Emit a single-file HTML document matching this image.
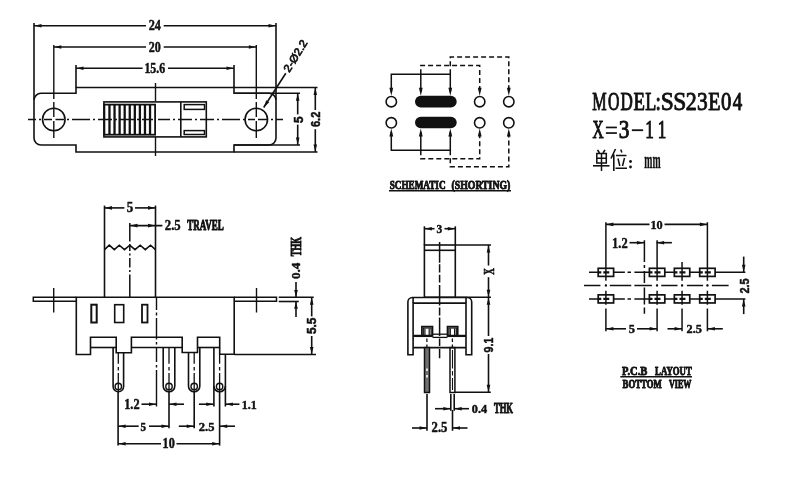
<!DOCTYPE html>
<html><head><meta charset="utf-8"><style>
html,body{margin:0;padding:0;background:#fff;width:800px;height:480px;overflow:hidden}
svg{display:block;will-change:transform}
</style></head><body>
<svg width="800" height="480" viewBox="0 0 800 480">
<rect width="800" height="480" fill="#fff"/>
<g stroke="#111" fill="none" stroke-linecap="butt">
<path d="M76,87.5 H234 V93.3 H269 A7,7 0 0 1 276,100.3 V138 A7,7 0 0 1 269,145 H234 V152 H76 V145 H41 A7,7 0 0 1 34,138 V100.3 A7,7 0 0 1 41,93.3 H76 Z" stroke-width="1.6" fill="none"/>
<circle cx="53.8" cy="119.5" r="11.25" stroke-width="1.6" fill="none"/>
<circle cx="256.3" cy="119.5" r="11.25" stroke-width="1.6" fill="none"/>
<path d="M28,119.5 H36 M39,119.5 H41 M44,119.5 H52 M55.5,119.5 H64 M67,119.5 H69 M72,119.5 H90 M93,119.5 H95 M98,119.5 H112 M115,119.5 H117 M120,119.5 H134 M137,119.5 H139 M142,119.5 H153 M158,119.5 H170 M173,119.5 H175 M178,119.5 H192 M195,119.5 H197 M200,119.5 H214 M217,119.5 H219 M222,119.5 H240 M243,119.5 H245 M248,119.5 H255 M258,119.5 H268 M271,119.5 H273 M276,119.5 H283" stroke-width="1.4" fill="none"/>
<path d="M53.8,45 V99 M53.8,102 V117 M53.8,121 V138" stroke-width="1.4" fill="none"/>
<path d="M256.3,45 V99 M256.3,102 V117 M256.3,121 V138" stroke-width="1.4" fill="none"/>
<path d="M155.5,83 V101" stroke-width="1.4" fill="none"/>
<path d="M155.5,137 V156" stroke-width="1.4" fill="none"/>
<line x1="34" y1="23" x2="34" y2="100" stroke-width="1.6"/>
<line x1="276" y1="23" x2="276" y2="100" stroke-width="1.6"/>
<line x1="76" y1="65" x2="76" y2="87.5" stroke-width="1.6"/>
<line x1="234" y1="65" x2="234" y2="87.5" stroke-width="1.6"/>
<line x1="34" y1="25.7" x2="146" y2="25.7" stroke-width="1.6"/>
<line x1="163.7" y1="25.7" x2="276" y2="25.7" stroke-width="1.6"/>
<path d="M34.50,25.70L41.50,23.90L41.50,27.50Z" fill="#111" stroke="none"/>
<path d="M275.50,25.70L268.50,27.50L268.50,23.90Z" fill="#111" stroke="none"/>
<line x1="53.8" y1="47" x2="146" y2="47" stroke-width="1.6"/>
<line x1="163.7" y1="47" x2="256.3" y2="47" stroke-width="1.6"/>
<path d="M54.30,47.00L61.30,45.20L61.30,48.80Z" fill="#111" stroke="none"/>
<path d="M255.80,47.00L248.80,48.80L248.80,45.20Z" fill="#111" stroke="none"/>
<line x1="76" y1="68.3" x2="142.6" y2="68.3" stroke-width="1.6"/>
<line x1="168" y1="68.3" x2="234" y2="68.3" stroke-width="1.6"/>
<path d="M76.50,68.30L83.50,66.50L83.50,70.10Z" fill="#111" stroke="none"/>
<path d="M233.50,68.30L226.50,70.10L226.50,66.50Z" fill="#111" stroke="none"/>
<text transform="translate(148.76,30.42) scale(0.60851,0.68981)" font-family="Liberation Serif" font-weight="bold" font-size="20" fill="#111" stroke="#111" stroke-width="0.693" stroke-linejoin="round">24</text>
<text transform="translate(148.87,51.57) scale(0.60000,0.72519)" font-family="Liberation Serif" font-weight="bold" font-size="20" fill="#111" stroke="#111" stroke-width="0.679" stroke-linejoin="round">20</text>
<text transform="translate(144.43,72.50) scale(0.59268,0.71882)" font-family="Liberation Serif" font-weight="bold" font-size="20" fill="#111" stroke="#111" stroke-width="0.686" stroke-linejoin="round">15.6</text>
<rect x="103.9" y="101.9" width="102.4" height="35.0" stroke-width="1.6" fill="none" rx="0"/>
<line x1="180.8" y1="101.9" x2="180.8" y2="136.9" stroke-width="1.6"/>
<rect x="104.4" y="104.6" width="50.69999999999999" height="30.099999999999994" stroke-width="1.8" fill="none" rx="0"/>
<line x1="109.47" y1="104.6" x2="109.47" y2="134.7" stroke-width="2.3"/>
<line x1="114.54" y1="104.6" x2="114.54" y2="134.7" stroke-width="2.3"/>
<line x1="119.61000000000001" y1="104.6" x2="119.61000000000001" y2="134.7" stroke-width="2.3"/>
<line x1="124.68" y1="104.6" x2="124.68" y2="134.7" stroke-width="2.3"/>
<line x1="129.75" y1="104.6" x2="129.75" y2="134.7" stroke-width="2.3"/>
<line x1="134.82" y1="104.6" x2="134.82" y2="134.7" stroke-width="2.3"/>
<line x1="139.89000000000001" y1="104.6" x2="139.89000000000001" y2="134.7" stroke-width="2.3"/>
<line x1="144.96" y1="104.6" x2="144.96" y2="134.7" stroke-width="2.3"/>
<line x1="150.03" y1="104.6" x2="150.03" y2="134.7" stroke-width="2.3"/>
<rect x="184.2" y="104.6" width="20.30000000000001" height="4.800000000000011" stroke-width="1.5" fill="none" rx="0"/>
<rect x="184.2" y="130.6" width="20.30000000000001" height="3.9000000000000057" stroke-width="1.5" fill="none" rx="0"/>
<line x1="234" y1="87.5" x2="317.5" y2="87.5" stroke-width="1.6"/>
<line x1="234" y1="152" x2="317.5" y2="152" stroke-width="1.6"/>
<line x1="234" y1="93.3" x2="300" y2="93.3" stroke-width="1.6"/>
<line x1="234" y1="145" x2="300" y2="145" stroke-width="1.6"/>
<line x1="297.7" y1="93.3" x2="297.7" y2="114.4" stroke-width="1.6"/>
<line x1="297.7" y1="124.6" x2="297.7" y2="145" stroke-width="1.6"/>
<path d="M297.70,93.80L299.50,100.80L295.90,100.80Z" fill="#111" stroke="none"/>
<path d="M297.70,144.50L295.90,137.50L299.50,137.50Z" fill="#111" stroke="none"/>
<text transform="translate(0.00,0.00) rotate(-90) translate(-122.90,302.57) scale(0.58794,0.67384)" font-family="Liberation Sans" font-weight="bold" font-size="20" fill="#111" stroke="#111" stroke-width="0.793" stroke-linejoin="round">5</text>
<line x1="315.3" y1="87.5" x2="315.3" y2="110" stroke-width="1.6"/>
<line x1="315.3" y1="129.2" x2="315.3" y2="152" stroke-width="1.6"/>
<path d="M315.30,88.00L317.10,95.00L313.50,95.00Z" fill="#111" stroke="none"/>
<path d="M315.30,151.50L313.50,144.50L317.10,144.50Z" fill="#111" stroke="none"/>
<text transform="translate(0.00,0.00) rotate(-90) translate(-127.01,319.58) scale(0.54857,0.62191)" font-family="Liberation Sans" font-weight="bold" font-size="20" fill="#111" stroke="#111" stroke-width="0.854" stroke-linejoin="round">6.2</text>
<line x1="263.7" y1="107.5" x2="285.8" y2="73.3" stroke-width="1.6"/>
<path d="M263.90,107.20L266.20,100.35L269.22,102.31Z" fill="#111" stroke="none"/>
<text transform="translate(285.10,72.70) rotate(-58.4) translate(1.90,3.82) scale(0.58274,0.54767)" font-family="Liberation Sans" font-weight="normal" font-size="20" fill="#111" stroke="#111" stroke-width="1.238" stroke-linejoin="round">2-Ø2.2</text>
<circle cx="391.3" cy="101.7" r="5.2" stroke-width="1.6" fill="none"/>
<circle cx="391.3" cy="122.8" r="5.2" stroke-width="1.6" fill="none"/>
<circle cx="479.7" cy="101.7" r="5.2" stroke-width="1.6" fill="none"/>
<circle cx="479.7" cy="122.8" r="5.2" stroke-width="1.6" fill="none"/>
<circle cx="508.8" cy="101.7" r="5.2" stroke-width="1.6" fill="none"/>
<circle cx="508.8" cy="122.8" r="5.2" stroke-width="1.6" fill="none"/>
<rect x="415" y="95.8" width="41.69999999999999" height="11.700000000000003" stroke-width="0" fill="#111" rx="5.85"/>
<rect x="415" y="116.7" width="41.69999999999999" height="11.600000000000009" stroke-width="0" fill="#111" rx="5.8"/>
<path d="M391.3,92 V74.2 H450.3 V92 M420.8,74.2 V92" stroke-width="1.5" fill="none"/>
<path d="M420.8,74.2 V65.5 H479.7 V92" stroke-width="1.5" fill="none" stroke-dasharray="5 3"/>
<path d="M450.3,74.2 V57 H508.8 V92" stroke-width="1.5" fill="none" stroke-dasharray="5 3"/>
<path d="M391.30,95.80L389.40,87.80L393.20,87.80Z" fill="#111" stroke="none"/>
<path d="M391.30,128.60L393.20,136.60L389.40,136.60Z" fill="#111" stroke="none"/>
<path d="M420.80,95.80L418.90,87.80L422.70,87.80Z" fill="#111" stroke="none"/>
<path d="M420.80,128.60L422.70,136.60L418.90,136.60Z" fill="#111" stroke="none"/>
<path d="M450.30,95.80L448.40,87.80L452.20,87.80Z" fill="#111" stroke="none"/>
<path d="M450.30,128.60L452.20,136.60L448.40,136.60Z" fill="#111" stroke="none"/>
<path d="M479.70,95.80L477.80,87.80L481.60,87.80Z" fill="#111" stroke="none"/>
<path d="M479.70,128.60L481.60,136.60L477.80,136.60Z" fill="#111" stroke="none"/>
<path d="M508.80,95.80L506.90,87.80L510.70,87.80Z" fill="#111" stroke="none"/>
<path d="M508.80,128.60L510.70,136.60L506.90,136.60Z" fill="#111" stroke="none"/>
<path d="M391.3,132 V150.3 H450.3 V132 M420.8,150.3 V132" stroke-width="1.5" fill="none"/>
<path d="M420.8,150.3 V158.8 H479.7 V132" stroke-width="1.5" fill="none" stroke-dasharray="5 3"/>
<path d="M450.3,150.3 V166.7 H508.8 V132" stroke-width="1.5" fill="none" stroke-dasharray="5 3"/>
<text transform="translate(389.74,188.76) scale(0.45836,0.57695)" font-family="Liberation Serif" font-weight="bold" font-size="20" fill="#111" stroke="#111" stroke-width="1.545" stroke-linejoin="round">SCHEMATIC</text>
<text transform="translate(451.58,188.76) scale(0.48765,0.57695)" font-family="Liberation Serif" font-weight="bold" font-size="20" fill="#111" stroke="#111" stroke-width="1.503" stroke-linejoin="round">(SHORTING)</text>
<line x1="389" y1="190.8" x2="511" y2="190.8" stroke-width="1.5"/>
<text transform="translate(592.35,110.16) scale(0.80843,1.28397)" font-family="Liberation Serif" font-weight="normal" font-size="20" fill="#111" stroke="#111" stroke-width="0.812" stroke-linejoin="round">M</text>
<text transform="translate(607.91,110.16) scale(0.79062,1.28397)" font-family="Liberation Serif" font-weight="normal" font-size="20" fill="#111" stroke="#111" stroke-width="0.819" stroke-linejoin="round">O</text>
<text transform="translate(620.43,110.16) scale(0.85211,1.28397)" font-family="Liberation Serif" font-weight="normal" font-size="20" fill="#111" stroke="#111" stroke-width="0.796" stroke-linejoin="round">D</text>
<text transform="translate(633.38,110.16) scale(0.93585,1.28397)" font-family="Liberation Serif" font-weight="normal" font-size="20" fill="#111" stroke="#111" stroke-width="0.766" stroke-linejoin="round">E</text>
<text transform="translate(645.20,110.16) scale(0.90577,1.28397)" font-family="Liberation Serif" font-weight="normal" font-size="20" fill="#111" stroke="#111" stroke-width="0.776" stroke-linejoin="round">L</text>
<text transform="translate(655.59,110.16) scale(0.96596,1.28397)" font-family="Liberation Serif" font-weight="normal" font-size="20" fill="#111" stroke="#111" stroke-width="0.756" stroke-linejoin="round">:</text>
<text transform="translate(660.86,110.16) scale(1.17193,1.28397)" font-family="Liberation Serif" font-weight="normal" font-size="20" fill="#111" stroke="#111" stroke-width="0.692" stroke-linejoin="round">S</text>
<text transform="translate(673.36,110.16) scale(1.17193,1.28397)" font-family="Liberation Serif" font-weight="normal" font-size="20" fill="#111" stroke="#111" stroke-width="0.692" stroke-linejoin="round">S</text>
<text transform="translate(685.85,110.16) scale(1.10250,1.28397)" font-family="Liberation Serif" font-weight="normal" font-size="20" fill="#111" stroke="#111" stroke-width="0.712" stroke-linejoin="round">2</text>
<text transform="translate(697.12,110.16) scale(1.06909,1.28397)" font-family="Liberation Serif" font-weight="normal" font-size="20" fill="#111" stroke="#111" stroke-width="0.722" stroke-linejoin="round">3</text>
<text transform="translate(708.14,110.16) scale(1.00189,1.28397)" font-family="Liberation Serif" font-weight="normal" font-size="20" fill="#111" stroke="#111" stroke-width="0.744" stroke-linejoin="round">E</text>
<text transform="translate(721.06,110.16) scale(1.03765,1.28397)" font-family="Liberation Serif" font-weight="normal" font-size="20" fill="#111" stroke="#111" stroke-width="0.732" stroke-linejoin="round">0</text>
<text transform="translate(732.76,110.16) scale(0.94839,1.28397)" font-family="Liberation Serif" font-weight="normal" font-size="20" fill="#111" stroke="#111" stroke-width="0.762" stroke-linejoin="round">4</text>
<rect x="605.9" y="126.6" width="11.0" height="1.700000000000017" stroke-width="0" fill="#111" rx="0"/>
<rect x="605.9" y="132.2" width="11.0" height="1.700000000000017" stroke-width="0" fill="#111" rx="0"/>
<rect x="631.9" y="129.3" width="11.200000000000045" height="1.799999999999983" stroke-width="0" fill="#111" rx="0"/>
<text transform="translate(592.49,137.66) scale(0.77070,1.23053)" font-family="Liberation Serif" font-weight="normal" font-size="20" fill="#111" stroke="#111" stroke-width="0.849" stroke-linejoin="round">X</text>
<text transform="translate(618.82,137.66) scale(1.06909,1.23053)" font-family="Liberation Serif" font-weight="normal" font-size="20" fill="#111" stroke="#111" stroke-width="0.739" stroke-linejoin="round">3</text>
<text transform="translate(645.35,137.66) scale(0.85390,1.23053)" font-family="Liberation Serif" font-weight="normal" font-size="20" fill="#111" stroke="#111" stroke-width="0.816" stroke-linejoin="round">1</text>
<text transform="translate(657.75,137.66) scale(0.85390,1.23053)" font-family="Liberation Serif" font-weight="normal" font-size="20" fill="#111" stroke="#111" stroke-width="0.816" stroke-linejoin="round">1</text>
<path d="M597.5,149.8 L599.5,153 M605,149.8 L603,153" stroke-width="1.6" fill="none"/>
<path d="M596.8,153.5 H606.3 V163 H596.8 Z M596.8,158.2 H606.3 M601.5,153.5 V171" stroke-width="1.5" fill="none"/>
<path d="M593,165.8 H609.5" stroke-width="1.6" fill="none"/>
<path d="M615.5,149 L611,158.5 M613.8,154.5 V171" stroke-width="1.6" fill="none"/>
<path d="M620.8,149.5 L621.8,152.5 M616,155.5 H626.5 M618,158.5 L619.8,166 M624.5,158 L622.5,166 M615.5,168.3 H627" stroke-width="1.5" fill="none"/>
<circle cx="630.5" cy="161.5" r="1.4" stroke-width="0" fill="#111"/>
<circle cx="630.5" cy="167" r="1.4" stroke-width="0" fill="#111"/>
<text transform="translate(644.33,168.30) scale(0.48765,1.18085)" font-family="Liberation Serif" font-weight="bold" font-size="20" fill="#111" stroke="#111" stroke-width="0.300" stroke-linejoin="round">mm</text>
<path d="M76.3,297.3 H33.3 V301.3 H76.3" stroke-width="1.5" fill="none"/>
<path d="M234.2,297.3 H276.5 V301.3 H234.2" stroke-width="1.5" fill="none"/>
<line x1="53.7" y1="288" x2="53.7" y2="312.5" stroke-width="1.4"/>
<line x1="256.5" y1="288" x2="256.5" y2="312.5" stroke-width="1.4"/>
<path d="M76.3,297.3 H234.2 V354.3 H219.7 V337.2 H197.5 V352.5 H182.2 V337.2 H131.4 V352.8 H116.2 V337.2 H90.5 V354.5 H76.3 Z" stroke-width="1.6" fill="none"/>
<line x1="90.5" y1="347.5" x2="116.2" y2="347.5" stroke-width="1.6"/>
<line x1="131.4" y1="347.5" x2="182.2" y2="347.5" stroke-width="1.6"/>
<line x1="197.5" y1="347.5" x2="219.7" y2="347.5" stroke-width="1.6"/>
<rect x="91.3" y="304.7" width="5.400000000000006" height="17.80000000000001" stroke-width="2" fill="none" rx="0"/>
<rect x="114.7" y="304.7" width="9.0" height="17.80000000000001" stroke-width="1.6" fill="none" rx="0"/>
<rect x="142" y="304.7" width="5.5" height="17.80000000000001" stroke-width="1.8" fill="none" rx="0"/>
<line x1="104.5" y1="205.6" x2="104.5" y2="297.3" stroke-width="1.6"/>
<line x1="155.5" y1="205.6" x2="155.5" y2="297.3" stroke-width="1.6"/>
<path d="M104.5,249.6 L109.3,245.2 L114.3,249.6 L119.3,245.2 L124.5,249.6 L129.8,245.2 L135,249.6 L140.2,245.2 L145.3,249.6 L150.5,245.2 L155.5,249.6" stroke-width="1.6" fill="none"/>
<path d="M129.8,223 V241.5 M129.8,244 V251 M129.8,253.5 V255.5 M129.8,258 V267.5 M129.8,270 V272 M129.8,274.5 V297" stroke-width="1.5" fill="none"/>
<line x1="104.5" y1="207.9" x2="124.4" y2="207.9" stroke-width="1.6"/>
<line x1="135" y1="207.9" x2="155.5" y2="207.9" stroke-width="1.6"/>
<path d="M105.00,207.90L112.00,206.10L112.00,209.70Z" fill="#111" stroke="none"/>
<path d="M155.00,207.90L148.00,209.70L148.00,206.10Z" fill="#111" stroke="none"/>
<text transform="translate(126.66,212.33) scale(0.64379,0.69850)" font-family="Liberation Serif" font-weight="bold" font-size="20" fill="#111" stroke="#111" stroke-width="0.670" stroke-linejoin="round">5</text>
<line x1="130" y1="225.6" x2="162.4" y2="225.6" stroke-width="1.6"/>
<path d="M130.50,225.60L137.50,223.80L137.50,227.40Z" fill="#111" stroke="none"/>
<path d="M155.00,225.60L148.00,227.40L148.00,223.80Z" fill="#111" stroke="none"/>
<text transform="translate(164.84,230.21) scale(0.63419,0.71144)" font-family="Liberation Serif" font-weight="bold" font-size="20" fill="#111" stroke="#111" stroke-width="0.669" stroke-linejoin="round">2.5</text>
<text transform="translate(187.28,230.37) scale(0.45148,0.69704)" font-family="Liberation Serif" font-weight="bold" font-size="20" fill="#111" stroke="#111" stroke-width="1.393" stroke-linejoin="round">TRAVEL</text>
<line x1="278.75" y1="297.3" x2="313.75" y2="297.3" stroke-width="1.6"/>
<line x1="278.75" y1="301.5" x2="298.75" y2="301.5" stroke-width="1.6"/>
<line x1="296" y1="281.9" x2="296" y2="297.3" stroke-width="1.6"/>
<path d="M296.00,297.10L294.20,290.10L297.80,290.10Z" fill="#111" stroke="none"/>
<line x1="296" y1="301.5" x2="296" y2="316.9" stroke-width="1.6"/>
<path d="M296.00,301.70L297.80,308.70L294.20,308.70Z" fill="#111" stroke="none"/>
<text transform="translate(0.00,0.00) rotate(-90) translate(-256.31,300.68) scale(0.43091,0.67634)" font-family="Liberation Serif" font-weight="bold" font-size="20" fill="#111" stroke="#111" stroke-width="1.445" stroke-linejoin="round">THK</text>
<text transform="translate(0.00,0.00) rotate(-90) translate(-279.06,300.24) scale(0.65439,0.61324)" font-family="Liberation Serif" font-weight="bold" font-size="20" fill="#111" stroke="#111" stroke-width="0.710" stroke-linejoin="round">0.4</text>
<line x1="311.7" y1="297.3" x2="311.7" y2="316.4" stroke-width="1.6"/>
<line x1="311.7" y1="336" x2="311.7" y2="354.5" stroke-width="1.6"/>
<path d="M311.70,297.80L313.50,304.80L309.90,304.80Z" fill="#111" stroke="none"/>
<path d="M311.70,354.00L309.90,347.00L313.50,347.00Z" fill="#111" stroke="none"/>
<text transform="translate(0.00,0.00) rotate(-90) translate(-334.05,316.27) scale(0.58537,0.66667)" font-family="Liberation Sans" font-weight="bold" font-size="20" fill="#111" stroke="#111" stroke-width="0.799" stroke-linejoin="round">5.5</text>
<line x1="234.2" y1="354.5" x2="316" y2="354.5" stroke-width="1.6"/>
<path d="M113.1,347.5 V386.55 A5.25,5.25 0 0 0 123.6,386.55 V352.8" stroke-width="1.6" fill="none"/>
<circle cx="118.3" cy="386.4" r="3.2" stroke-width="1.4" fill="none"/>
<path d="M163.2,347.5 V386.0 A5.800000000000011,5.800000000000011 0 0 0 174.8,386.0 V347.5" stroke-width="1.6" fill="none"/>
<circle cx="169" cy="386.4" r="3.2" stroke-width="1.4" fill="none"/>
<path d="M188.5,352.5 V386.15 A5.650000000000006,5.650000000000006 0 0 0 199.8,386.15 V347.5" stroke-width="1.6" fill="none"/>
<circle cx="194.2" cy="386.4" r="3.2" stroke-width="1.4" fill="none"/>
<path d="M213.9,347.5 V386.05 A5.75,5.75 0 0 0 225.4,386.05 V354.3" stroke-width="1.6" fill="none"/>
<circle cx="219.6" cy="386.4" r="3.2" stroke-width="1.4" fill="none"/>
<path d="M118.3,352.8 V363.75 M118.3,366.9 V370.6 M118.3,373 V392" stroke-width="1.3" fill="none"/>
<path d="M169,347.5 V363.75 M169,366.9 V370.6 M169,373 V392" stroke-width="1.3" fill="none"/>
<path d="M194.2,352.5 V363.75 M194.2,366.9 V370.6 M194.2,373 V392" stroke-width="1.3" fill="none"/>
<path d="M219.6,354.3 V363.75 M219.6,366.9 V370.6 M219.6,373 V392" stroke-width="1.3" fill="none"/>
<line x1="118.1" y1="392" x2="118.1" y2="445.6" stroke-width="1.6"/>
<line x1="219.6" y1="392" x2="219.6" y2="445.6" stroke-width="1.6"/>
<line x1="169" y1="392" x2="169" y2="428.3" stroke-width="1.6"/>
<line x1="194.2" y1="392" x2="194.2" y2="428.3" stroke-width="1.6"/>
<path d="M156.5,297.3 V310 M156.5,312.5 V315.5 M156.5,318 V339.5 M156.5,342 V344.5 M156.5,347 V362 M156.5,365 V367.5 M156.5,370 V406.5" stroke-width="1.4" fill="none"/>
<line x1="213.9" y1="386" x2="213.9" y2="406.5" stroke-width="1.6"/>
<line x1="225.4" y1="386" x2="225.4" y2="406.5" stroke-width="1.6"/>
<line x1="141.5" y1="404.2" x2="156.5" y2="404.2" stroke-width="1.6"/>
<path d="M156.00,404.20L149.00,406.00L149.00,402.40Z" fill="#111" stroke="none"/>
<line x1="169" y1="404.2" x2="184" y2="404.2" stroke-width="1.6"/>
<path d="M169.50,404.20L176.50,402.40L176.50,406.00Z" fill="#111" stroke="none"/>
<text transform="translate(124.19,408.92) scale(0.61818,0.67823)" font-family="Liberation Serif" font-weight="bold" font-size="20" fill="#111" stroke="#111" stroke-width="0.694" stroke-linejoin="round">1.2</text>
<line x1="199" y1="404.2" x2="213.8" y2="404.2" stroke-width="1.6"/>
<path d="M213.30,404.20L206.30,406.00L206.30,402.40Z" fill="#111" stroke="none"/>
<line x1="225.4" y1="404.2" x2="239.4" y2="404.2" stroke-width="1.6"/>
<path d="M225.90,404.20L232.90,402.40L232.90,406.00Z" fill="#111" stroke="none"/>
<text transform="translate(241.72,409.37) scale(0.59911,0.65111)" font-family="Liberation Serif" font-weight="bold" font-size="20" fill="#111" stroke="#111" stroke-width="0.720" stroke-linejoin="round">1.1</text>
<line x1="118.1" y1="426.2" x2="138.7" y2="426.2" stroke-width="1.6"/>
<line x1="149" y1="426.2" x2="169" y2="426.2" stroke-width="1.6"/>
<path d="M118.60,426.20L125.60,424.40L125.60,428.00Z" fill="#111" stroke="none"/>
<path d="M168.50,426.20L161.50,428.00L161.50,424.40Z" fill="#111" stroke="none"/>
<text transform="translate(140.54,430.69) scale(0.54911,0.63083)" font-family="Liberation Serif" font-weight="bold" font-size="20" fill="#111" stroke="#111" stroke-width="0.763" stroke-linejoin="round">5</text>
<line x1="178.8" y1="426.2" x2="194.2" y2="426.2" stroke-width="1.6"/>
<path d="M193.70,426.20L186.70,428.00L186.70,424.40Z" fill="#111" stroke="none"/>
<line x1="219.7" y1="426.2" x2="235" y2="426.2" stroke-width="1.6"/>
<path d="M220.20,426.20L227.20,424.40L227.20,428.00Z" fill="#111" stroke="none"/>
<text transform="translate(198.85,430.62) scale(0.62564,0.65240)" font-family="Liberation Serif" font-weight="bold" font-size="20" fill="#111" stroke="#111" stroke-width="0.704" stroke-linejoin="round">2.5</text>
<line x1="118.1" y1="443.7" x2="161" y2="443.7" stroke-width="1.6"/>
<line x1="176.5" y1="443.7" x2="219.7" y2="443.7" stroke-width="1.6"/>
<path d="M118.60,443.70L125.60,441.90L125.60,445.50Z" fill="#111" stroke="none"/>
<path d="M219.20,443.70L212.20,445.50L212.20,441.90Z" fill="#111" stroke="none"/>
<text transform="translate(162.61,448.08) scale(0.60850,0.70667)" font-family="Liberation Serif" font-weight="bold" font-size="20" fill="#111" stroke="#111" stroke-width="0.684" stroke-linejoin="round">10</text>
<rect x="424.4" y="245" width="30.900000000000034" height="52.19999999999999" stroke-width="1.6" fill="none" rx="0"/>
<line x1="424.4" y1="250.3" x2="455.3" y2="250.3" stroke-width="1.6"/>
<line x1="424.4" y1="226.3" x2="424.4" y2="245" stroke-width="1.6"/>
<line x1="455.3" y1="226.3" x2="455.3" y2="245" stroke-width="1.6"/>
<line x1="424.4" y1="228.7" x2="434.5" y2="228.7" stroke-width="1.6"/>
<line x1="444.5" y1="228.7" x2="455.3" y2="228.7" stroke-width="1.6"/>
<path d="M424.90,228.70L431.90,226.90L431.90,230.50Z" fill="#111" stroke="none"/>
<path d="M454.80,228.70L447.80,230.50L447.80,226.90Z" fill="#111" stroke="none"/>
<text transform="translate(436.50,232.94) scale(0.57193,0.64238)" font-family="Liberation Serif" font-weight="bold" font-size="20" fill="#111" stroke="#111" stroke-width="0.741" stroke-linejoin="round">3</text>
<path d="M439.6,242 V262.7 M439.6,264.2 V272.5 M439.6,274.8 V282.5 M439.6,285 V305.5 M439.6,307.5 V315.5 M439.6,317.5 V336 M439.6,338.5 V346 M439.6,349 V358.3" stroke-width="1.5" fill="none"/>
<path d="M407.9,354.7 V302 A4.5,4.5 0 0 1 412.4,297.5 H467.2 A4.5,4.5 0 0 1 471.7,302 V354.7 H466 V303.1 H413.1 V354.7 Z" stroke-width="1.6" fill="none"/>
<line x1="413.1" y1="298" x2="413.1" y2="303.1" stroke-width="1.6"/>
<line x1="466" y1="298" x2="466" y2="303.1" stroke-width="1.6"/>
<line x1="413.1" y1="335.9" x2="432.5" y2="335.9" stroke-width="2.3"/>
<line x1="447.5" y1="335.9" x2="466" y2="335.9" stroke-width="2.3"/>
<line x1="413.1" y1="347.6" x2="466" y2="347.6" stroke-width="1.6"/>
<line x1="432.5" y1="334.2" x2="447.5" y2="334.2" stroke-width="1.3"/>
<line x1="432.5" y1="337.4" x2="447.5" y2="337.4" stroke-width="1.3"/>
<rect x="421.9" y="326.6" width="10.600000000000023" height="9.399999999999977" stroke-width="1.7" fill="none" rx="0"/>
<rect x="423.3" y="328" width="7.800000000000011" height="8" stroke-width="1.2" fill="none" rx="0"/>
<line x1="424.9" y1="328.5" x2="424.9" y2="336" stroke-width="1.2"/>
<line x1="429.2" y1="328.5" x2="429.2" y2="336" stroke-width="1.2"/>
<rect x="447.5" y="326.6" width="10.199999999999989" height="9.399999999999977" stroke-width="1.7" fill="none" rx="0"/>
<rect x="448.9" y="328" width="7.400000000000034" height="8" stroke-width="1.2" fill="none" rx="0"/>
<line x1="450.3" y1="328.5" x2="450.3" y2="336" stroke-width="1.2"/>
<line x1="454.6" y1="328.5" x2="454.6" y2="336" stroke-width="1.2"/>
<path d="M426.9,338.5 V342 M426.9,344.5 V347 M452.4,338.5 V342 M452.4,344.5 V347" stroke-width="1.3" fill="none"/>
<rect x="424.5" y="347.6" width="5.0" height="44.89999999999998" stroke-width="1.5" fill="#707070" rx="0"/>
<rect x="426.2" y="368.5" width="1.6000000000000227" height="2.5" stroke-width="0" fill="#fff" rx="0"/>
<rect x="426.2" y="375" width="1.6000000000000227" height="2.5" stroke-width="0" fill="#fff" rx="0"/>
<rect x="450" y="347.6" width="4.899999999999977" height="44.89999999999998" stroke-width="1.5" fill="none" rx="0"/>
<path d="M452.5,350 V368.5 M452.5,371 V375.5 M452.5,378 V390" stroke-width="1.1" fill="none"/>
<line x1="455.3" y1="245" x2="491" y2="245" stroke-width="1.6"/>
<line x1="455.3" y1="297.2" x2="491" y2="297.2" stroke-width="1.6"/>
<line x1="488.5" y1="245" x2="488.5" y2="265.5" stroke-width="1.6"/>
<line x1="488.5" y1="277.2" x2="488.5" y2="297.2" stroke-width="1.6"/>
<path d="M488.50,245.50L490.30,252.50L486.70,252.50Z" fill="#111" stroke="none"/>
<path d="M488.50,296.70L486.70,289.70L490.30,289.70Z" fill="#111" stroke="none"/>
<text transform="translate(0.00,0.00) rotate(-90) translate(-274.66,493.60) scale(0.45487,0.77099)" font-family="Liberation Serif" font-weight="bold" font-size="20" fill="#111" stroke="#111" stroke-width="0.816" stroke-linejoin="round">X</text>
<line x1="454.7" y1="392.2" x2="490.8" y2="392.2" stroke-width="1.6"/>
<line x1="488.5" y1="297.2" x2="488.5" y2="336" stroke-width="1.6"/>
<line x1="488.5" y1="354" x2="488.5" y2="392.2" stroke-width="1.6"/>
<path d="M488.50,297.70L490.30,304.70L486.70,304.70Z" fill="#111" stroke="none"/>
<path d="M488.50,391.70L486.70,384.70L490.30,384.70Z" fill="#111" stroke="none"/>
<text transform="translate(0.00,0.00) rotate(-90) translate(-352.39,492.89) scale(0.52881,0.63887)" font-family="Liberation Sans" font-weight="bold" font-size="20" fill="#111" stroke="#111" stroke-width="0.771" stroke-linejoin="round">9.1</text>
<line x1="450.8" y1="394" x2="450.8" y2="410.8" stroke-width="1.6"/>
<line x1="454.2" y1="394" x2="454.2" y2="410.8" stroke-width="1.6"/>
<line x1="427" y1="394" x2="427" y2="430.8" stroke-width="1.6"/>
<line x1="452.5" y1="410" x2="452.5" y2="430.8" stroke-width="1.6"/>
<line x1="435" y1="408.7" x2="450.8" y2="408.7" stroke-width="1.6"/>
<path d="M450.30,408.70L443.30,410.50L443.30,406.90Z" fill="#111" stroke="none"/>
<line x1="454.2" y1="408.7" x2="469" y2="408.7" stroke-width="1.6"/>
<path d="M454.70,408.70L461.70,406.90L461.70,410.50Z" fill="#111" stroke="none"/>
<text transform="translate(471.82,413.03) scale(0.61255,0.64632)" font-family="Liberation Serif" font-weight="bold" font-size="20" fill="#111" stroke="#111" stroke-width="0.715" stroke-linejoin="round">0.4</text>
<text transform="translate(493.94,413.48) scale(0.42977,0.71069)" font-family="Liberation Serif" font-weight="bold" font-size="20" fill="#111" stroke="#111" stroke-width="1.403" stroke-linejoin="round">THK</text>
<line x1="412" y1="428" x2="427" y2="428" stroke-width="1.6"/>
<path d="M426.50,428.00L419.50,429.80L419.50,426.20Z" fill="#111" stroke="none"/>
<line x1="452.5" y1="428" x2="467.5" y2="428" stroke-width="1.6"/>
<path d="M453.00,428.00L460.00,426.20L460.00,429.80Z" fill="#111" stroke="none"/>
<text transform="translate(431.54,432.41) scale(0.63419,0.69668)" font-family="Liberation Serif" font-weight="bold" font-size="20" fill="#111" stroke="#111" stroke-width="0.676" stroke-linejoin="round">2.5</text>
<path d="M589,272.35 H598.1 M613.75,272.35 H624.9 M627.5,272.35 H631 M634.4,272.35 H649.4 M664.75,272.35 H674.4 M689.7,272.35 H699.6 M715.2,272.35 H745.4" stroke-width="1.5" fill="none"/>
<path d="M589,298.9 H598.1 M613.75,298.9 H624.9 M627.5,298.9 H631 M634.4,298.9 H649.4 M664.75,298.9 H674.4 M689.7,298.9 H699.6 M715.2,298.9 H745.4" stroke-width="1.5" fill="none"/>
<path d="M584,285.4 H600.4 M604.8,285.4 H607 M609.8,285.4 H631.25 M634.4,285.4 H651.9 M655.9,285.4 H658.1 M661.25,285.4 H677.5 M681,285.4 H683.2 M686.9,285.4 H703.1 M706.4,285.4 H708.6 M711.9,285.4 H728.6" stroke-width="1.5" fill="none"/>
<rect x="598.1999999999999" y="268.3" width="15.400000000000091" height="8.100000000000023" stroke-width="1.7" fill="none" rx="0"/>
<path d="M598.1999999999999,272.35 H601.3 M603.3,272.35 H609.3" stroke-width="2.2" fill="none"/>
<rect x="598.1999999999999" y="294.84999999999997" width="15.400000000000091" height="8.100000000000023" stroke-width="1.7" fill="none" rx="0"/>
<path d="M598.1999999999999,298.9 H601.3 M603.3,298.9 H609.3" stroke-width="2.2" fill="none"/>
<rect x="649.4" y="268.3" width="15.400000000000091" height="8.100000000000023" stroke-width="1.7" fill="none" rx="0"/>
<path d="M649.4,272.35 H652.5 M654.5,272.35 H660.5" stroke-width="2.2" fill="none"/>
<rect x="649.4" y="294.84999999999997" width="15.400000000000091" height="8.100000000000023" stroke-width="1.7" fill="none" rx="0"/>
<path d="M649.4,298.9 H652.5 M654.5,298.9 H660.5" stroke-width="2.2" fill="none"/>
<rect x="674.3499999999999" y="268.3" width="15.400000000000091" height="8.100000000000023" stroke-width="1.7" fill="none" rx="0"/>
<path d="M674.3499999999999,272.35 H677.4499999999999 M679.4499999999999,272.35 H685.4499999999999" stroke-width="2.2" fill="none"/>
<rect x="674.3499999999999" y="294.84999999999997" width="15.400000000000091" height="8.100000000000023" stroke-width="1.7" fill="none" rx="0"/>
<path d="M674.3499999999999,298.9 H677.4499999999999 M679.4499999999999,298.9 H685.4499999999999" stroke-width="2.2" fill="none"/>
<rect x="699.6999999999999" y="268.3" width="15.400000000000091" height="8.100000000000023" stroke-width="1.7" fill="none" rx="0"/>
<path d="M699.6999999999999,272.35 H702.8 M704.8,272.35 H710.8" stroke-width="2.2" fill="none"/>
<rect x="699.6999999999999" y="294.84999999999997" width="15.400000000000091" height="8.100000000000023" stroke-width="1.7" fill="none" rx="0"/>
<path d="M699.6999999999999,298.9 H702.8 M704.8,298.9 H710.8" stroke-width="2.2" fill="none"/>
<path d="M605.9,222.3 V280.8 M605.9,284.2 V286.6 M605.9,290.7 V304.8 M605.9,308.5 V331.3" stroke-width="1.5" fill="none"/>
<path d="M707.4,222.3 V280.8 M707.4,284.2 V286.6 M707.4,290.7 V304.8 M707.4,308.5 V331.3" stroke-width="1.5" fill="none"/>
<path d="M657.1,240.3 V280.8 M657.1,284.2 V286.6 M657.1,290.7 V304.8 M657.1,308.5 V331.3" stroke-width="1.5" fill="none"/>
<path d="M682.05,262 V280.8 M682.05,284.2 V286.6 M682.05,290.7 V304.8 M682.05,308.5 V331.3" stroke-width="1.5" fill="none"/>
<path d="M644.4,240.3 V262 M644.4,265 V268 M644.4,271 V283 M644.4,287.5 V304.5 M644.4,307.5 V313.7" stroke-width="1.5" fill="none"/>
<line x1="605.9" y1="224.4" x2="649.5" y2="224.4" stroke-width="1.6"/>
<line x1="664.5" y1="224.4" x2="707.4" y2="224.4" stroke-width="1.6"/>
<path d="M606.40,224.40L613.40,222.60L613.40,226.20Z" fill="#111" stroke="none"/>
<path d="M706.90,224.40L699.90,226.20L699.90,222.60Z" fill="#111" stroke="none"/>
<text transform="translate(650.40,229.19) scale(0.61416,0.66963)" font-family="Liberation Serif" font-weight="bold" font-size="20" fill="#111" stroke="#111" stroke-width="0.701" stroke-linejoin="round">10</text>
<line x1="629.5" y1="242.7" x2="644.4" y2="242.7" stroke-width="1.6"/>
<path d="M643.90,242.70L636.90,244.50L636.90,240.90Z" fill="#111" stroke="none"/>
<line x1="656.6" y1="242.7" x2="671.9" y2="242.7" stroke-width="1.6"/>
<path d="M657.10,242.70L664.10,240.90L664.10,244.50Z" fill="#111" stroke="none"/>
<text transform="translate(612.08,247.52) scale(0.62262,0.68192)" font-family="Liberation Serif" font-weight="bold" font-size="20" fill="#111" stroke="#111" stroke-width="0.690" stroke-linejoin="round">1.2</text>
<line x1="605.9" y1="328.8" x2="626" y2="328.8" stroke-width="1.6"/>
<line x1="637" y1="328.8" x2="657.1" y2="328.8" stroke-width="1.6"/>
<path d="M606.40,328.80L613.40,327.00L613.40,330.60Z" fill="#111" stroke="none"/>
<path d="M656.60,328.80L649.60,330.60L649.60,327.00Z" fill="#111" stroke="none"/>
<text transform="translate(628.68,332.89) scale(0.62012,0.64962)" font-family="Liberation Serif" font-weight="bold" font-size="20" fill="#111" stroke="#111" stroke-width="0.709" stroke-linejoin="round">5</text>
<line x1="667.5" y1="328.8" x2="682.05" y2="328.8" stroke-width="1.6"/>
<path d="M681.55,328.80L674.55,330.60L674.55,327.00Z" fill="#111" stroke="none"/>
<line x1="707.4" y1="328.8" x2="722.8" y2="328.8" stroke-width="1.6"/>
<path d="M707.90,328.80L714.90,327.00L714.90,330.60Z" fill="#111" stroke="none"/>
<text transform="translate(686.56,332.83) scale(0.61282,0.63764)" font-family="Liberation Serif" font-weight="bold" font-size="20" fill="#111" stroke="#111" stroke-width="0.720" stroke-linejoin="round">2.5</text>
<line x1="743.7" y1="256.6" x2="743.7" y2="272.35" stroke-width="1.6"/>
<path d="M743.70,271.85L741.90,264.85L745.50,264.85Z" fill="#111" stroke="none"/>
<line x1="743.7" y1="298.9" x2="743.7" y2="314.1" stroke-width="1.6"/>
<path d="M743.70,299.40L745.50,306.40L741.90,306.40Z" fill="#111" stroke="none"/>
<text transform="translate(0.00,0.00) rotate(-90) translate(-293.50,748.69) scale(0.54765,0.66714)" font-family="Liberation Sans" font-weight="bold" font-size="20" fill="#111" stroke="#111" stroke-width="0.741" stroke-linejoin="round">2.5</text>
<text transform="translate(622.04,374.79) scale(0.52558,0.63911)" font-family="Liberation Serif" font-weight="bold" font-size="20" fill="#111" stroke="#111" stroke-width="1.374" stroke-linejoin="round">P.C.B</text>
<text transform="translate(655.07,374.85) scale(0.43875,0.64387)" font-family="Liberation Serif" font-weight="bold" font-size="20" fill="#111" stroke="#111" stroke-width="1.478" stroke-linejoin="round">LAYOUT</text>
<line x1="620.3" y1="376.8" x2="692" y2="376.8" stroke-width="1.6"/>
<text transform="translate(622.57,387.76) scale(0.43698,0.61413)" font-family="Liberation Serif" font-weight="bold" font-size="20" fill="#111" stroke="#111" stroke-width="1.522" stroke-linejoin="round">BOTTOM</text>
<text transform="translate(668.94,387.70) scale(0.40254,0.61642)" font-family="Liberation Serif" font-weight="bold" font-size="20" fill="#111" stroke="#111" stroke-width="1.570" stroke-linejoin="round">VIEW</text>
</g></svg></body></html>
